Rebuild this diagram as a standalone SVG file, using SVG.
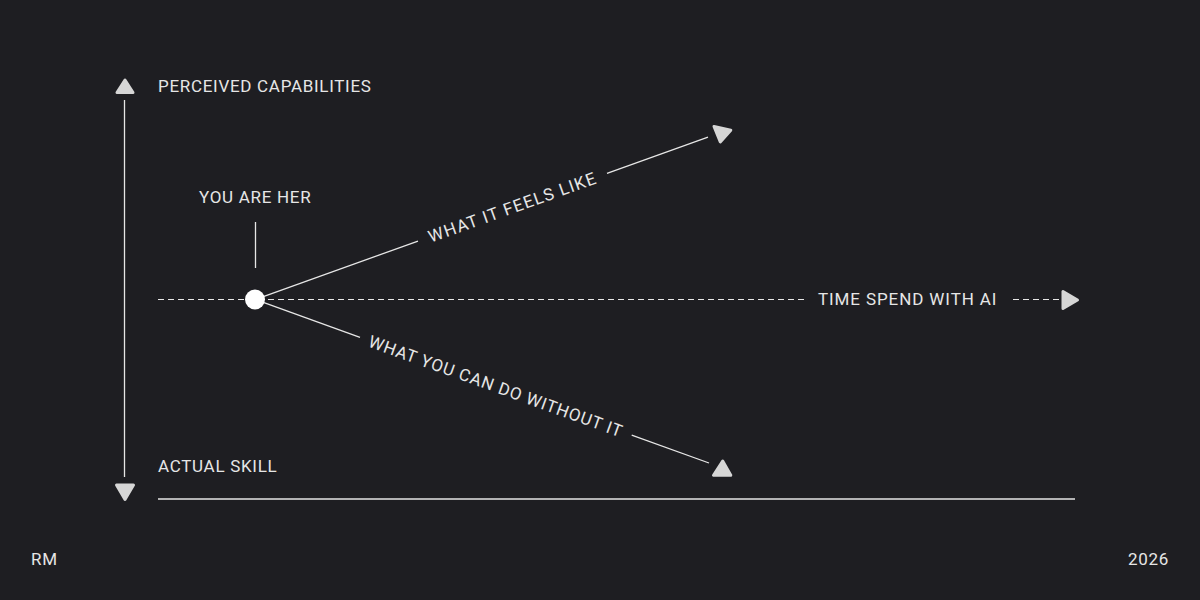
<svg xmlns="http://www.w3.org/2000/svg" width="1200" height="600" viewBox="0 0 1200 600">
  <style>
    .t { font-family: Roboto, "Liberation Sans", sans-serif; font-size: 17px; fill: #e6e6e6; letter-spacing: 0.7px; }
    .d { letter-spacing: 1.2px; }
    .d2 { letter-spacing: 0.85px; }
    .ln { stroke: #e6e6e6; stroke-width: 1.3; fill: none; }
    .dash { stroke: #e6e6e6; stroke-width: 1.2; fill: none; stroke-dasharray: 6 4; }
    .arr { fill: #d6d6d6; stroke: #d6d6d6; stroke-width: 3; stroke-linejoin: round; }
  </style>
  <rect width="1200" height="600" fill="#1e1e22"/>

  <g id="axes">
    <line class="ln" x1="124.5" y1="100" x2="124.5" y2="477"/>
    <polygon class="arr" points="125,80 117,92.5 133,92.5"/>
    <polygon class="arr" points="116.5,485 133.5,485 125,499.5"/>
    <line class="ln" x1="158" y1="499" x2="1075" y2="499"/>
  </g>

  <g id="labels">
    <text class="t" x="158" y="92">PERCEIVED CAPABILITIES</text>
    <text class="t" x="158" y="472">ACTUAL SKILL</text>
    <text class="t" x="31" y="565">RM</text>
    <text class="t" x="1169" y="565" text-anchor="end">2026</text>
  </g>

  <g id="connectors">
    <line class="dash" x1="158" y1="299.5" x2="808" y2="299.5"/>
    <line class="dash" x1="1013" y1="299.5" x2="1060" y2="299.5"/>
    <polygon class="arr" points="1063,291.5 1063,308.5 1077.5,300"/>
    <polyline class="ln" points="264,296.3 418,241.1"/>
    <polyline class="ln" points="607,173.3 708,137.1"/>
    <polygon class="arr" points="714,126.5 730.8,130.2 720.3,142"/>
    <polyline class="ln" points="264,302.7 360,337.3"/>
    <polyline class="ln" points="631.7,435.1 709,463"/>
    <polygon class="arr" points="722.7,461 713.5,475.3 730.8,475.3"/>
    <line class="ln" x1="255.5" y1="222" x2="255.5" y2="268"/>
  </g>

  <g id="time-axis-label">
    <text class="t" x="818" y="305" style="letter-spacing:0.9px">TIME SPEND WITH AI</text>
  </g>

  <g id="you-are-here">
    <circle cx="255" cy="299.5" r="10" fill="#ffffff"/>
    <text class="t" x="199" y="203">YOU ARE HER</text>
  </g>

  <g id="feels-like">
    <text class="t d" transform="translate(512.5,207.2) rotate(-19.7)" text-anchor="middle" dominant-baseline="central">WHAT IT FEELS LIKE</text>
  </g>

  <g id="without-it">
    <text class="t d2" transform="translate(495.8,386.2) rotate(19.8)" text-anchor="middle" dominant-baseline="central">WHAT YOU CAN DO WITHOUT IT</text>
  </g>
</svg>
